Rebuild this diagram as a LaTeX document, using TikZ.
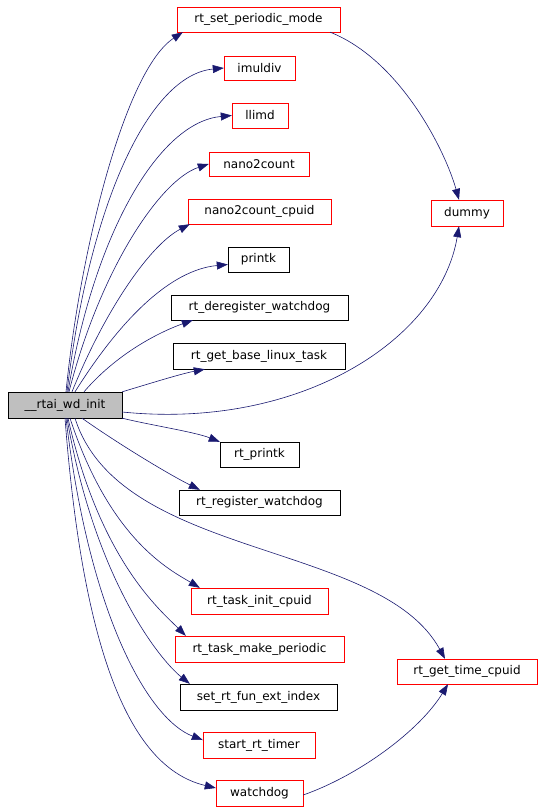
\documentclass[tikz,border=0pt]{standalone}
\usepackage{fontspec}
\setmainfont{DejaVu Sans}
\usetikzlibrary{arrows.meta}
\definecolor{edgeblue}{HTML}{191970}
\definecolor{boxgray}{HTML}{BFBFBF}
\begin{document}
\begin{tikzpicture}[x=1pt,y=-1pt,
    fn/.style={draw=red, inner sep=0pt, minimum height=25pt, font=\fontsize{12}{14}\selectfont},
    fnext/.style={fn, draw=black},
    call/.style={draw=edgeblue, line width=0.6pt, -{Triangle[length=11pt,width=8pt]}}]
\useasboundingbox (0,0) rectangle (544,811);

\node[fnext, fill=boxgray, minimum width=114pt, minimum height=26pt] (wdinit) at (65,405) {\_\_rtai\_wd\_init};
\node[fn, minimum width=163pt] (setmode) at (258.5,19.5) {rt\_set\_periodic\_mode};
\node[fn, minimum width=71pt, minimum height=24pt] (imuldiv) at (259.5,68) {imuldiv};
\node[fn, minimum width=56pt] (llimd) at (260,115.5) {llimd};
\node[fn, minimum width=100pt, minimum height=24pt] (ntc) at (259,164) {nano2count};
\node[fn, minimum width=143pt] (ntccpu) at (259.5,211.5) {nano2count\_cpuid};
\node[fnext, minimum width=61pt] (printk) at (258.5,259.5) {printk};
\node[fnext, minimum width=177pt] (dereg) at (259.5,307.5) {rt\_deregister\_watchdog};
\node[fnext, minimum width=172pt, minimum height=26pt] (baselx) at (259,356) {rt\_get\_base\_linux\_task};
\node[fn, minimum width=72pt, minimum height=26pt] (dummy) at (467,213) {dummy};
\node[fnext, minimum width=79pt] (rtprintk) at (259.5,454.5) {rt\_printk};
\node[fnext, minimum width=161pt] (regwd) at (259.5,502.5) {rt\_register\_watchdog};
\node[fn, minimum width=137pt, minimum height=26pt] (initcpu) at (259.5,601) {rt\_task\_init\_cpuid};
\node[fn, minimum width=169pt, minimum height=26pt] (mkper) at (259.5,649) {rt\_task\_make\_periodic};
\node[fnext, minimum width=157pt, minimum height=26pt] (setfun) at (258.5,697) {set\_rt\_fun\_ext\_index};
\node[fn, minimum width=112pt, minimum height=26pt] (startt) at (259,745) {start\_rt\_timer};
\node[fn, minimum width=87pt, minimum height=26pt] (wdog) at (259.5,793) {watchdog};
\node[fn, minimum width=140pt] (gettime) at (467,671.5) {rt\_get\_time\_cpuid};

% calls going up
\draw[call] ([xshift=1pt]wdinit.north) .. controls (80,250) and (125,70) .. ([xshift=6pt]setmode.south west);
\draw[call] ([xshift=2pt]wdinit.north) .. controls (90,200) and (150,75) .. (imuldiv.west);
\draw[call] ([xshift=3pt]wdinit.north) .. controls (95,230) and (160,122) .. (llimd.west);
\draw[call] ([xshift=4pt]wdinit.north) .. controls (100,270) and (160,180) .. (ntc.west);
\draw[call] ([xshift=7pt]wdinit.north) .. controls (105,310) and (150,245) .. ([xshift=2pt]ntccpu.south west);
\draw[call] ([xshift=10pt]wdinit.north) .. controls (120,320) and (170,270) .. ([yshift=-5pt]printk.west);
\draw[call] ([xshift=19pt]wdinit.north) .. controls (120,350) and (165,330) .. ([xshift=22pt]dereg.south west);
\draw[call] (wdinit.north east) .. controls (145,385) and (180,374) .. ([xshift=32pt]baselx.south west);
\draw[call] ([yshift=-7pt]wdinit.east) .. controls (300,430) and (440,340) .. ([xshift=-8pt]dummy.south);
% calls going down
\draw[call] (wdinit.south east) .. controls (150,425) and (195,432) .. (rtprintk.north west);
\draw[call] ([xshift=17pt]wdinit.south) .. controls (120,445) and (170,475) .. ([xshift=21pt]regwd.north west);
\draw[call] ([xshift=10pt]wdinit.south) .. controls (120,560) and (380,540) .. ([xshift=-22pt]gettime.north);
\draw[call] ([xshift=5pt]wdinit.south) .. controls (110,540) and (170,570) .. ([xshift=9pt]initcpu.north west);
\draw[call] ([xshift=3pt]wdinit.south) .. controls (100,560) and (160,610) .. ([xshift=11pt]mkper.north west);
\draw[call] ([xshift=2pt]wdinit.south) .. controls (95,580) and (160,660) .. ([xshift=10pt]setfun.north west);
\draw[call] ([xshift=1pt]wdinit.south) .. controls (90,620) and (150,720) .. ([yshift=5pt]startt.west);
\draw[call] (wdinit.south) .. controls (85,680) and (140,770) .. ([yshift=5pt]wdog.west);
% second level
\draw[call] ([xshift=-10pt]setmode.south east) .. controls (400,60) and (445,150) .. ([xshift=-8pt]dummy.north);
\draw[call] ([yshift=-2pt]wdog.east) .. controls (360,775) and (420,730) .. ([xshift=-19pt]gettime.south);
\end{tikzpicture}
\end{document}
